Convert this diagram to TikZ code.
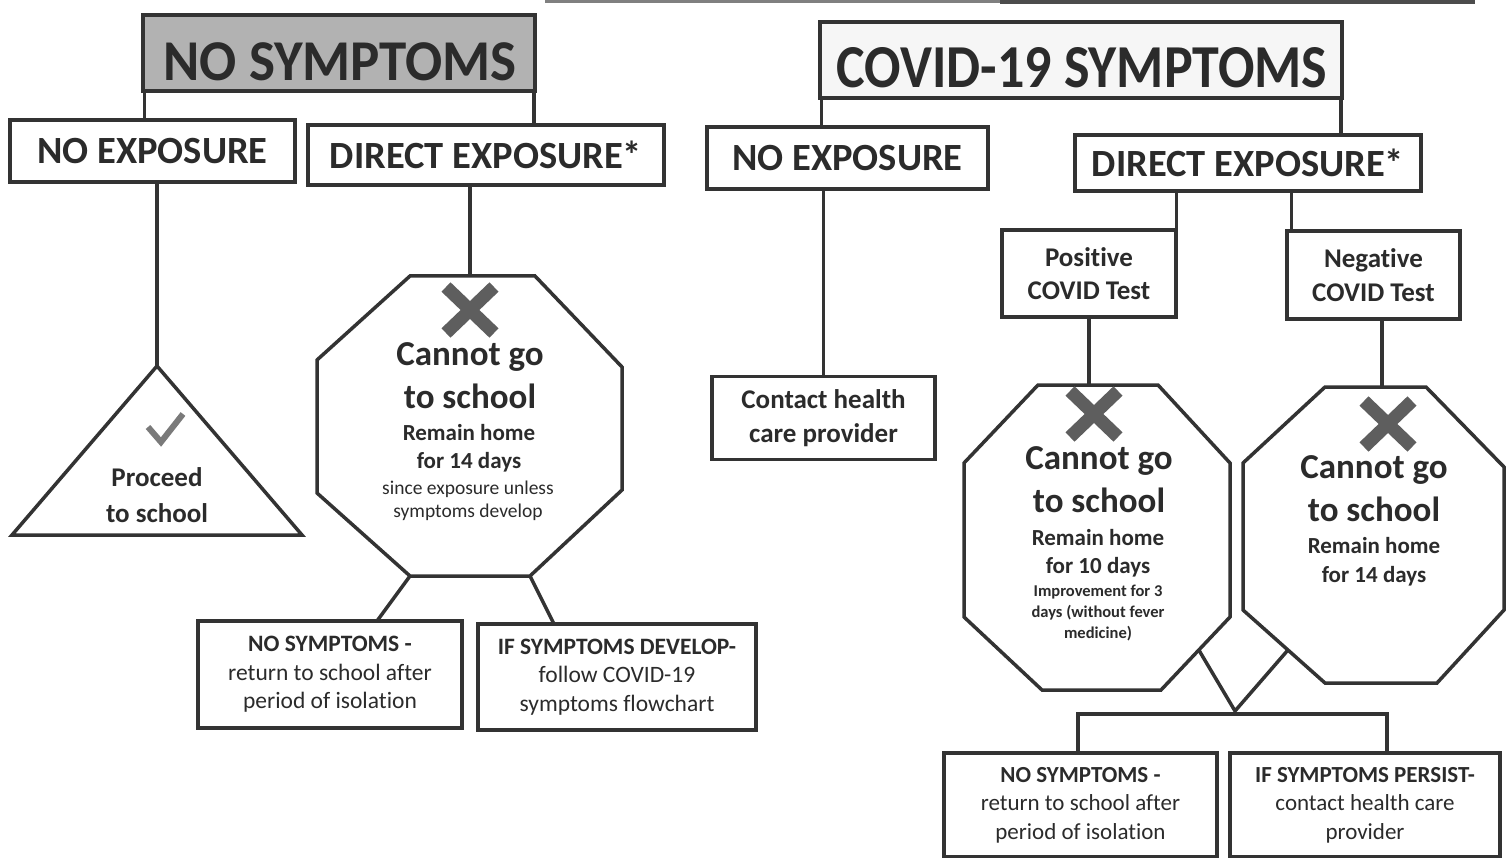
\documentclass[tikz,border=0pt]{standalone}
\usepackage{fontspec}
\usepackage{graphicx}
\usetikzlibrary{calc}
\setmainfont[Ligatures={NoCommon}]{Carlito}
\definecolor{ink}{HTML}{333333}
\definecolor{txt}{HTML}{2B2B2B}
\definecolor{markc}{HTML}{5E5E5E}
\definecolor{checkc}{HTML}{7A7A7A}
\newcommand\myfs[2]{\fontsize{#1}{#2}\selectfont}
\begin{document}
\begin{tikzpicture}[x=1pt,y=-1pt,
  box/.style={draw=ink, line width=3.5pt, fill=white, inner sep=0pt, text=txt, align=center},
  conn/.style={draw=ink, line width=3.5pt},
  shapeline/.style={draw=ink, line width=3.5pt, line join=miter, fill=white},
  tl/.style={text=txt, inner sep=0pt, anchor=base},
  xmark/.style={draw=markc, line width=13pt},
  big/.style={font=\bfseries\myfs{38.5}{44}},
]
\useasboundingbox (0,0) rectangle (1509,858);

% top rule
\coordinate (ruleL) at (545,2);
\coordinate (ruleM) at (1000,2);
\coordinate (ruleR) at (1475,2);
\draw[draw=black!50, line width=3pt] (ruleL) -- (ruleM);
\draw[draw=black!70, line width=3.5pt] (ruleM) -- (ruleR);

% ---------------- LEFT ----------------
\node[box, fill=black!30, minimum width=392pt, minimum height=76pt] (hdrL) at (339,53) {};
\node[tl, font=\bfseries\myfs{55}{60}] (hdrLt) at (340,81) {\scalebox{1}[1.05]{NO SYMPTOMS}};
\node[box, big, minimum width=285pt, minimum height=62pt] (noexpL) at (152.5,151) {NO EXPOSURE};
\node[box, big, minimum width=356pt, minimum height=60pt] (dirL) at (486,155) {DIRECT EXPOSURE*};

\draw[conn] ([xshift=3pt]hdrL.south west) -- ([xshift=3pt]hdrL.south west |- noexpL.north);
\draw[conn] ([xshift=-3pt]hdrL.south east) -- ([xshift=-3pt]hdrL.south east |- dirL.north);

% triangle
\coordinate (triA) at (157,366);
\coordinate (triL) at (12,535);
\coordinate (triR) at (302,535);
\draw[shapeline] (triA) -- (triL) -- (triR) -- cycle;
\draw[conn] (triA |- noexpL.south) -- (triA);
\coordinate (ck1) at (148,427);
\coordinate (ck2) at (161,442);
\coordinate (ck3) at (183,414);
\draw[draw=checkc, line width=6pt] (ck1) -- (ck2) -- (ck3);
\node[tl, font=\bfseries\myfs{27}{32}] (proc1) at (157,486) {Proceed};
\node[tl, font=\bfseries\myfs{27}{32}] (proc2) at (157,522) {to school};

% octagon 1
\coordinate (o1-1) at (410,276);
\coordinate (o1-2) at (535,276);
\coordinate (o1-3) at (622,367);
\coordinate (o1-4) at (622,490);
\coordinate (o1-5) at (530,576);
\coordinate (o1-6) at (410,576);
\coordinate (o1-7) at (317,493);
\coordinate (o1-8) at (317,360);
\draw[shapeline] (o1-1) -- (o1-2) -- (o1-3) -- (o1-4) -- (o1-5) -- (o1-6) -- (o1-7) -- (o1-8) -- cycle;
\coordinate (o1top) at (470,276);
\draw[conn] (o1top |- dirL.south) -- (o1top);
\coordinate (x1a) at (446,287); \coordinate (x1b) at (494,333);
\coordinate (x1c) at (494,287); \coordinate (x1d) at (446,333);
\draw[xmark] (x1a) -- (x1b) (x1c) -- (x1d);
\node[tl, font=\bfseries\myfs{35}{42}] (o1a) at (470,366) {Cannot go};
\node[tl, font=\bfseries\myfs{35}{42}] (o1b) at (470,408) {to school};
\node[tl, font=\bfseries\myfs{23}{28}] (o1c) at (469,440) {Remain home};
\node[tl, font=\bfseries\myfs{23}{28}] (o1d) at (469,468) {for 14 days};
\node[tl, font=\myfs{19.5}{23}] (o1e) at (468,494) {since exposure unless};
\node[tl, font=\myfs{19.5}{23}] (o1f) at (468,517) {symptoms develop};

\node[box, font=\myfs{23.5}{28.5}, minimum width=264pt, minimum height=107pt] (nsL) at (330,674.5) {\textbf{NO SYMPTOMS -}\\return to school after\\period of isolation};
\node[box, font=\myfs{23.5}{28.5}, minimum width=278pt, minimum height=106pt] (devL) at (617,677) {\textbf{IF SYMPTOMS DEVELOP-}\\follow COVID-19\\symptoms flowchart};
\coordinate (nsLin) at (377,621);
\coordinate (devLin) at (554,624);
\draw[conn] (o1-6) -- (nsLin);
\draw[conn] (o1-5) -- (devLin);

% ---------------- RIGHT ----------------
\node[box, fill=gray!7, minimum width=522pt, minimum height=76pt] (hdrR) at (1081,60) {};
\node[tl, font=\bfseries\myfs{54}{60}] (hdrRt) at (1082,88) {\scalebox{1}[1.13]{COVID-19 SYMPTOMS}};
\node[box, big, minimum width=281pt, minimum height=62pt] (noexpR) at (847.5,158) {NO EXPOSURE};
\node[box, big, minimum width=346pt, minimum height=56pt] (dirR) at (1248,163) {DIRECT EXPOSURE*};
\draw[conn] ([xshift=3pt]hdrR.south west) -- ([xshift=3pt]hdrR.south west |- noexpR.north);
\draw[conn] ([xshift=-3pt]hdrR.south east) -- ([xshift=-3pt]hdrR.south east |- dirR.north);

\node[box, font=\bfseries\myfs{27}{33.5}, minimum width=223pt, minimum height=83pt] (contact) at (823.5,418) {Contact health\\care provider};
\draw[conn] (contact.north |- noexpR.south) -- (contact.north);

\node[box, font=\bfseries\myfs{27}{33.5}, minimum width=174pt, minimum height=87pt] (pos) at (1089,273.5) {Positive\\COVID Test};
\node[box, font=\bfseries\myfs{27}{33.5}, minimum width=173pt, minimum height=88pt] (neg) at (1373.5,275) {Negative\\COVID Test};
\draw[conn] ([xshift=-1.5pt]pos.north east |- dirR.south) -- ([xshift=-1.5pt]pos.north east);
\draw[conn] ([xshift=6pt]neg.north west |- dirR.south) -- ([xshift=6pt]neg.north west);

% octagon 2
\coordinate (o2-1) at (1038,385);
\coordinate (o2-2) at (1158,385);
\coordinate (o2-3) at (1230,463);
\coordinate (o2-4) at (1230,617);
\coordinate (o2-5) at (1161,690);
\coordinate (o2-6) at (1042,690);
\coordinate (o2-7) at (964,617);
\coordinate (o2-8) at (964,463);
\draw[shapeline] (o2-1) -- (o2-2) -- (o2-3) -- (o2-4) -- (o2-5) -- (o2-6) -- (o2-7) -- (o2-8) -- cycle;
\draw[conn] (pos.south) -- (pos.south |- o2-1);
\coordinate (x2a) at (1070,391); \coordinate (x2b) at (1118,437);
\coordinate (x2c) at (1118,391); \coordinate (x2d) at (1070,437);
\draw[xmark] (x2a) -- (x2b) (x2c) -- (x2d);
\node[tl, font=\bfseries\myfs{35}{42}] (o2a) at (1099,469) {Cannot go};
\node[tl, font=\bfseries\myfs{35}{42}] (o2b) at (1099,512) {to school};
\node[tl, font=\bfseries\myfs{23}{28}] (o2c) at (1098,545) {Remain home};
\node[tl, font=\bfseries\myfs{23}{28}] (o2d) at (1098,573) {for 10 days};
\node[tl, font=\bfseries\myfs{16.5}{21}] (o2e) at (1098,596) {Improvement for 3};
\node[tl, font=\bfseries\myfs{16.5}{21}] (o2f) at (1098,617) {days (without fever};
\node[tl, font=\bfseries\myfs{16.5}{21}] (o2g) at (1098,638) {medicine)};

% octagon 3
\coordinate (o3-1) at (1325,387);
\coordinate (o3-2) at (1426,387);
\coordinate (o3-3) at (1504,467);
\coordinate (o3-4) at (1504,610);
\coordinate (o3-5) at (1437,683);
\coordinate (o3-6) at (1325,683);
\coordinate (o3-7) at (1243,610);
\coordinate (o3-8) at (1243,463);
\draw[shapeline] (o3-1) -- (o3-2) -- (o3-3) -- (o3-4) -- (o3-5) -- (o3-6) -- (o3-7) -- (o3-8) -- cycle;
\coordinate (o3top) at (1382,387);
\draw[conn] (o3top |- neg.south) -- (o3top);
\coordinate (x3a) at (1364,401); \coordinate (x3b) at (1412,447);
\coordinate (x3c) at (1412,401); \coordinate (x3d) at (1364,447);
\draw[xmark] (x3a) -- (x3b) (x3c) -- (x3d);
\node[tl, font=\bfseries\myfs{35}{42}] (o3a) at (1374,478) {Cannot go};
\node[tl, font=\bfseries\myfs{35}{42}] (o3b) at (1374,521) {to school};
\node[tl, font=\bfseries\myfs{23}{28}] (o3c) at (1374,553) {Remain home};
\node[tl, font=\bfseries\myfs{23}{28}] (o3d) at (1374,582) {for 14 days};

% bottom right boxes
\node[box, font=\myfs{23}{28.5}, minimum width=273pt, minimum height=104pt] (nsR) at (1080.5,805) {\textbf{NO SYMPTOMS -}\\return to school after\\period of isolation};
\node[box, font=\myfs{23}{28.5}, minimum width=270pt, minimum height=104pt] (persist) at (1365,805) {\textbf{IF SYMPTOMS PERSIST-}\\contact health care\\provider};

\coordinate (e2) at ($(o2-4)!0.452!(o2-5)$);
\coordinate (e3) at ($(o3-7)!0.548!(o3-6)$);
\coordinate (junc) at (1235,711);
\coordinate (barL) at (1078,714);
\coordinate (barR) at (1387,714);
\draw[conn] (e2) -- (junc) -- (e3);
\draw[conn, line join=miter] (barL |- nsR.north) -- (barL) -- (barR) -- (barR |- persist.north);
\end{tikzpicture}
\end{document}
